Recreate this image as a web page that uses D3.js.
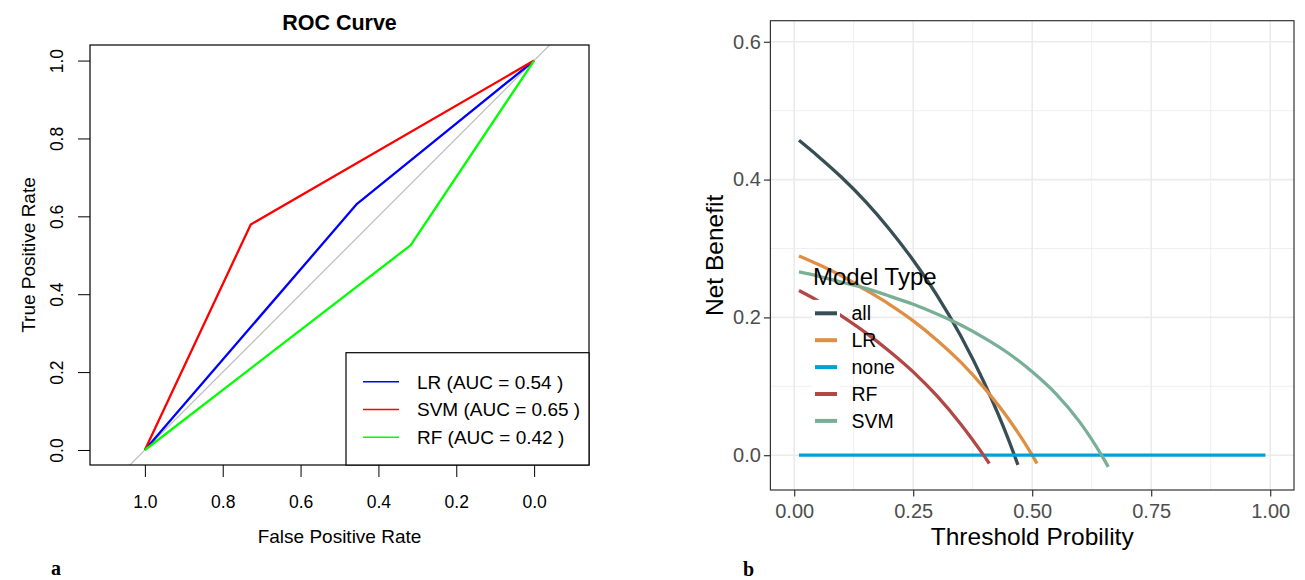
<!DOCTYPE html>
<html>
<head>
<meta charset="utf-8">
<script src="https://cdn.jsdelivr.net/npm/d3@7"></script>
<style>
  body { margin: 0; background: #fff; }
  svg { font-family: "Liberation Sans", Arial, Helvetica, sans-serif; }
</style>
</head>
<body>
<svg id="chart" width="1305" height="580"></svg>
<script>
// ---- panel a: ROC curves ----
const rocModels = ["LR", "SVM", "RF"];
const rocColors = ["#0000ff", "#ff0000", "#00ff00"];
const rocAuc = ["0.54", "0.65", "0.42"];
const lrSpec = [1, 0.455, 0],  lrSens = [0, 0.632, 1];
const svmSpec = [1, 0.728, 0], svmSens = [0, 0.579, 1];
const rfSpec = [1, 0.317, 0],  rfSens = [0, 0.526, 1];
const rocTicks = [1, 0.8, 0.6, 0.4, 0.2, 0];

// ---- panel b: decision curves ----
const dcaModels = ["all", "LR", "none", "RF", "SVM"];
const dcaColors = ["#374E55", "#DF8F44", "#00A1D5", "#B24745", "#79AF97"];
const allPt = [0.01, 0.05, 0.10, 0.15, 0.20, 0.25, 0.30, 0.35, 0.40, 0.45, 0.47];
const allNb = [0.457, 0.434, 0.403, 0.368, 0.328, 0.283, 0.232, 0.173, 0.104, 0.023, -0.014];
const lrPt = [0.01, 0.05, 0.10, 0.15, 0.20, 0.25, 0.30, 0.35, 0.40, 0.45, 0.50, 0.51];
const lrNb = [0.289, 0.277, 0.260, 0.240, 0.219, 0.195, 0.167, 0.135, 0.097, 0.053, 0.000, -0.012];
const nonePt = [0.01, 0.99];
const noneNb = [0, 0];
const rfPt = [0.01, 0.05, 0.10, 0.15, 0.20, 0.25, 0.30, 0.35, 0.40, 0.41];
const rfNb = [0.239, 0.224, 0.202, 0.178, 0.151, 0.121, 0.086, 0.045, -0.002, -0.012];
const svmPt = [0.01, 0.05, 0.10, 0.15, 0.20, 0.25, 0.30, 0.35, 0.40, 0.45, 0.50, 0.55, 0.60, 0.65, 0.66];
const svmNb = [0.266, 0.260, 0.251, 0.242, 0.231, 0.219, 0.205, 0.189, 0.170, 0.148, 0.121, 0.089, 0.048, -0.005, -0.017];
const dcaXTicks = [0, 0.25, 0.5, 0.75, 1];
const dcaYTicks = [0, 0.2, 0.4, 0.6];

const svg = d3.select("#chart");
svg.append("rect").attr("width", 1305).attr("height", 580).attr("fill", "#fff");

// ================= panel a =================
const boxA = {left: 90, right: 589, top: 45, bottom: 465};
const xA = d3.scaleLinear().domain([1.141, -0.141]).range([boxA.left, boxA.right]);
const yA = d3.scaleLinear().domain([-0.0386, 1.04]).range([boxA.bottom, boxA.top]);

const gA = svg.append("g");
gA.append("clipPath").attr("id", "clipA")
  .append("rect")
  .attr("x", boxA.left).attr("y", boxA.top)
  .attr("width", boxA.right - boxA.left).attr("height", boxA.bottom - boxA.top);

// diagonal reference
gA.append("line")
  .attr("clip-path", "url(#clipA)")
  .attr("x1", xA(1.3)).attr("y1", yA(-0.3))
  .attr("x2", xA(-0.3)).attr("y2", yA(1.3))
  .attr("stroke", "#bebebe").attr("stroke-width", 1.2);

const rocSeries = [
  {spec: lrSpec, sens: lrSens},
  {spec: svmSpec, sens: svmSens},
  {spec: rfSpec, sens: rfSens}
];
const rocLine = d3.line().x(d => xA(d[0])).y(d => yA(d[1]));
rocSeries.forEach((s, i) => {
  gA.append("path")
    .datum(d3.zip(s.spec, s.sens))
    .attr("d", rocLine)
    .attr("fill", "none")
    .attr("stroke", rocColors[i])
    .attr("stroke-width", 2.3)
    .attr("stroke-linejoin", "round");
});

// axes
const xAxisA = gA.append("g")
  .attr("transform", `translate(0,${boxA.bottom})`)
  .call(d3.axisBottom(xA).tickValues(rocTicks).tickFormat(d3.format(".1f")).tickSize(12).tickPadding(18.5));
xAxisA.select(".domain").remove();
xAxisA.selectAll("line").attr("stroke", "#000");
xAxisA.selectAll("text").attr("font-size", 17.5).attr("fill", "#000")
  .attr("font-family", "'Liberation Sans', Arial, sans-serif");

const yAxisA = gA.append("g")
  .attr("transform", `translate(${boxA.left},0)`)
  .call(d3.axisLeft(yA).tickValues(rocTicks).tickFormat(d3.format(".1f")).tickSize(12));
yAxisA.select(".domain").remove();
yAxisA.selectAll("line").attr("stroke", "#000");
yAxisA.selectAll("text")
  .attr("transform", "rotate(-90)")
  .attr("x", 0).attr("y", -27.5).attr("dy", 0)
  .attr("text-anchor", "middle")
  .attr("font-size", 17.5).attr("fill", "#000")
  .attr("font-family", "'Liberation Sans', Arial, sans-serif");

gA.append("rect")
  .attr("x", boxA.left).attr("y", boxA.top)
  .attr("width", boxA.right - boxA.left).attr("height", boxA.bottom - boxA.top)
  .attr("fill", "none").attr("stroke", "#000").attr("stroke-width", 1.2);

// titles
gA.append("text")
  .attr("x", (boxA.left + boxA.right) / 2).attr("y", 30)
  .attr("text-anchor", "middle").attr("font-size", 21.5).attr("font-weight", "bold")
  .text("ROC Curve");
gA.append("text")
  .attr("x", (boxA.left + boxA.right) / 2).attr("y", 543)
  .attr("text-anchor", "middle").attr("font-size", 19)
  .text("False Positive Rate");
gA.append("text")
  .attr("transform", `translate(35,${(boxA.top + boxA.bottom) / 2}) rotate(-90)`)
  .attr("text-anchor", "middle").attr("font-size", 19)
  .text("True Positive Rate");

// legend
const legA = gA.append("g");
legA.append("rect")
  .attr("x", 346).attr("y", 352.7)
  .attr("width", boxA.right - 346).attr("height", boxA.bottom - 352.7)
  .attr("fill", "#fff").attr("stroke", "#000").attr("stroke-width", 1.2);
rocModels.forEach((m, i) => {
  const y = 381.7 + i * 27.8;
  legA.append("line")
    .attr("x1", 363).attr("x2", 399).attr("y1", y).attr("y2", y)
    .attr("stroke", rocColors[i]).attr("stroke-width", 1.6);
  legA.append("text")
    .attr("x", 417).attr("y", y).attr("dy", "0.36em")
    .attr("font-size", 19)
    .text(`${m} (AUC = ${rocAuc[i]} )`);
});

gA.append("text")
  .attr("x", 51).attr("y", 575)
  .attr("font-family", "'Liberation Serif', 'Times New Roman', serif")
  .attr("font-weight", "bold").attr("font-size", 20)
  .text("a");

// ================= panel b =================
const boxB = {left: 770.4, right: 1294, top: 20.7, bottom: 490};
const xB = d3.scaleLinear().domain([-0.05, 1.05]).range([boxB.left, boxB.right]);
const yB = d3.scaleLinear().domain([-0.0505, 0.6306]).range([boxB.bottom, boxB.top]);

const gB = svg.append("g");
gB.append("rect")
  .attr("x", boxB.left).attr("y", boxB.top)
  .attr("width", boxB.right - boxB.left).attr("height", boxB.bottom - boxB.top)
  .attr("fill", "#fff");

// grid
const xMinor = [0.125, 0.375, 0.625, 0.875];
const yMinor = [0.1, 0.3, 0.5];
gB.selectAll(".xminor").data(xMinor).join("line")
  .attr("x1", d => xB(d)).attr("x2", d => xB(d))
  .attr("y1", boxB.top).attr("y2", boxB.bottom)
  .attr("stroke", "#ebebeb").attr("stroke-width", 0.8);
gB.selectAll(".yminor").data(yMinor).join("line")
  .attr("y1", d => yB(d)).attr("y2", d => yB(d))
  .attr("x1", boxB.left).attr("x2", boxB.right)
  .attr("stroke", "#ebebeb").attr("stroke-width", 0.8);
gB.selectAll(".xmajor").data(dcaXTicks).join("line")
  .attr("x1", d => xB(d)).attr("x2", d => xB(d))
  .attr("y1", boxB.top).attr("y2", boxB.bottom)
  .attr("stroke", "#ebebeb").attr("stroke-width", 1.6);
gB.selectAll(".ymajor").data(dcaYTicks).join("line")
  .attr("y1", d => yB(d)).attr("y2", d => yB(d))
  .attr("x1", boxB.left).attr("x2", boxB.right)
  .attr("stroke", "#ebebeb").attr("stroke-width", 1.6);

// curves
const dcaSeries = [
  {pt: allPt, nb: allNb},
  {pt: lrPt, nb: lrNb},
  {pt: nonePt, nb: noneNb},
  {pt: rfPt, nb: rfNb},
  {pt: svmPt, nb: svmNb}
];
const dcaLine = d3.line().x(d => xB(d[0])).y(d => yB(d[1])).curve(d3.curveMonotoneX);
dcaSeries.forEach((s, i) => {
  gB.append("path")
    .datum(d3.zip(s.pt, s.nb))
    .attr("d", dcaLine)
    .attr("fill", "none")
    .attr("stroke", dcaColors[i])
    .attr("stroke-width", 3.3);
});

// legend (keys have white background, no box)
const legB = gB.append("g");
legB.append("text")
  .attr("x", 813).attr("y", 285)
  .attr("font-size", 24).attr("fill", "#000")
  .text("Model Type");
dcaModels.forEach((m, i) => {
  const y = 313.3 + i * 26.9;
  legB.append("rect")
    .attr("x", 812).attr("y", y - 13.4).attr("width", 28).attr("height", 26.9)
    .attr("fill", "#fff");
  legB.append("line")
    .attr("x1", 815).attr("x2", 837).attr("y1", y).attr("y2", y)
    .attr("stroke", dcaColors[i]).attr("stroke-width", 4);
  legB.append("text")
    .attr("x", 851.5).attr("y", y).attr("dy", "0.35em")
    .attr("font-size", 19.5).attr("fill", "#000")
    .text(m);
});

// border + axes
gB.append("rect")
  .attr("x", boxB.left).attr("y", boxB.top)
  .attr("width", boxB.right - boxB.left).attr("height", boxB.bottom - boxB.top)
  .attr("fill", "none").attr("stroke", "#333").attr("stroke-width", 1.2);

const xAxisB = gB.append("g")
  .attr("transform", `translate(0,${boxB.bottom})`)
  .call(d3.axisBottom(xB).tickValues(dcaXTicks).tickFormat(d3.format(".2f")).tickSize(6.5).tickPadding(7));
xAxisB.select(".domain").remove();
xAxisB.selectAll("line").attr("stroke", "#333").attr("stroke-width", 1.2);
xAxisB.selectAll("text").attr("font-size", 20).attr("fill", "#4d4d4d")
  .attr("font-family", "'Liberation Sans', Arial, sans-serif");

const yAxisB = gB.append("g")
  .attr("transform", `translate(${boxB.left},0)`)
  .call(d3.axisLeft(yB).tickValues(dcaYTicks).tickFormat(d3.format(".1f")).tickSize(6.5).tickPadding(3));
yAxisB.select(".domain").remove();
yAxisB.selectAll("line").attr("stroke", "#333").attr("stroke-width", 1.2);
yAxisB.selectAll("text").attr("font-size", 20).attr("fill", "#4d4d4d")
  .attr("font-family", "'Liberation Sans', Arial, sans-serif");

gB.append("text")
  .attr("x", (boxB.left + boxB.right) / 2).attr("y", 545)
  .attr("text-anchor", "middle").attr("font-size", 24.5)
  .text("Threshold Probility");
gB.append("text")
  .attr("transform", `translate(722.5,${(boxB.top + boxB.bottom) / 2}) rotate(-90)`)
  .attr("text-anchor", "middle").attr("font-size", 24.5)
  .text("Net Benefit");

gB.append("text")
  .attr("x", 743).attr("y", 576)
  .attr("font-family", "'Liberation Serif', 'Times New Roman', serif")
  .attr("font-weight", "bold").attr("font-size", 20)
  .text("b");
</script>
</body>
</html>
